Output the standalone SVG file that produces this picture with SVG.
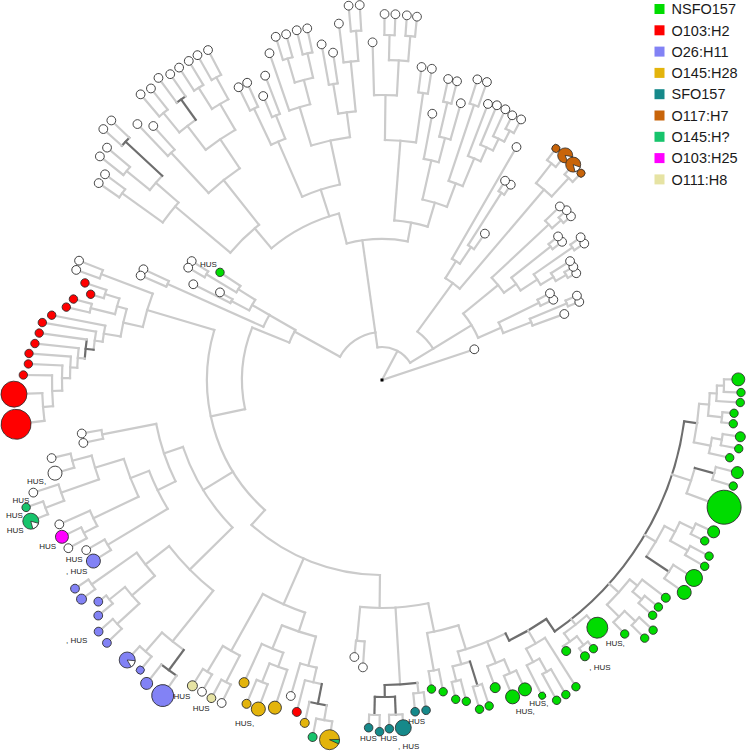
<svg xmlns="http://www.w3.org/2000/svg" width="746" height="751" viewBox="0 0 746 751">
<style>
.br line,.br circle{fill:none;stroke:#cbcbcb;stroke-width:2.2;stroke-linecap:square}
.br .d{stroke:#6e6e6e}
.lf circle,.lf path{stroke:#2a2a2a;stroke-width:0.8}
.w{fill:#fff}.ns{fill:#00dc00}.rd{fill:#f00}.pu{fill:#8282f5}.go{fill:#e3b40c}.te{fill:#16898a}.or{fill:#c8640a}.em{fill:#17c46c}.mg{fill:#f0f}.be{fill:#e6e3a3}
.lab text{font-family:"Liberation Sans",Arial,sans-serif;font-size:8px;fill:#222}
.leg{font-family:"Liberation Sans",Arial,sans-serif;font-size:14.5px;fill:#1a1a1a}
</style>
<rect width="746" height="751" fill="#fff"/>
<g id="connectors" class="br" transform="translate(382,380)">
<line x1="0" x2="97.3" transform="rotate(-18.4)"/>
<line x1="0" x2="33" transform="rotate(-62)"/>
<circle r="33" pathLength="360" stroke-dasharray="66.5 999" transform="rotate(-98)"/>
<line x1="33" x2="60" transform="rotate(-31.5)"/>
<circle r="60" pathLength="360" stroke-dasharray="22.35 999" transform="rotate(-53.85)"/>
<line x1="60" x2="105" transform="rotate(-31.5)"/>
<circle r="105" pathLength="360" stroke-dasharray="15.6 999" transform="rotate(-39.3)"/>
<line x1="105" x2="150" transform="rotate(-39.3)"/>
<circle r="150" pathLength="360" stroke-dasharray="7.4 999" transform="rotate(-43)"/>
<line x1="150" x2="228" transform="rotate(-43)"/>
<circle r="228" pathLength="360" stroke-dasharray="2.55 999" transform="rotate(-44.3)"/>
<line x1="228" x2="248.5" transform="rotate(-44.3)"/>
<line x1="228" x2="240" transform="rotate(-41.75)"/>
<circle r="240" pathLength="360" stroke-dasharray="1.7 999" transform="rotate(-42.6)"/>
<line x1="240" x2="250.8" transform="rotate(-42.6)"/>
<line x1="240" x2="250" transform="rotate(-40.9)"/>
<line x1="150" x2="165" transform="rotate(-35.6)"/>
<circle r="165" pathLength="360" stroke-dasharray="5.45 999" transform="rotate(-38.35)"/>
<line x1="165" x2="215" transform="rotate(-38.35)"/>
<circle r="215" pathLength="360" stroke-dasharray="1.7 999" transform="rotate(-39.2)"/>
<line x1="215" x2="227.2" transform="rotate(-39.2)"/>
<line x1="215" x2="227" transform="rotate(-37.5)"/>
<line x1="165" x2="185" transform="rotate(-32.9)"/>
<circle r="185" pathLength="360" stroke-dasharray="3.85 999" transform="rotate(-34.85)"/>
<line x1="185" x2="232" transform="rotate(-34.85)"/>
<circle r="232" pathLength="360" stroke-dasharray="1.7 999" transform="rotate(-35.7)"/>
<line x1="232" x2="244.6" transform="rotate(-35.7)"/>
<line x1="232" x2="244" transform="rotate(-34)"/>
<line x1="185" x2="200" transform="rotate(-31)"/>
<circle r="200" pathLength="360" stroke-dasharray="2.6 999" transform="rotate(-32.3)"/>
<line x1="200" x2="222.5" transform="rotate(-32.3)"/>
<line x1="200" x2="212" transform="rotate(-29.7)"/>
<circle r="212" pathLength="360" stroke-dasharray="1.8 999" transform="rotate(-30.6)"/>
<line x1="212" x2="222.3" transform="rotate(-30.6)"/>
<line x1="212" x2="221.7" transform="rotate(-28.8)"/>
<line x1="105" x2="130" transform="rotate(-23.7)"/>
<circle r="130" pathLength="360" stroke-dasharray="5 999" transform="rotate(-26.2)"/>
<line x1="130" x2="175" transform="rotate(-26.2)"/>
<circle r="175" pathLength="360" stroke-dasharray="2.2 999" transform="rotate(-27.3)"/>
<line x1="175" x2="189" transform="rotate(-27.3)"/>
<line x1="175" x2="189.2" transform="rotate(-25.1)"/>
<line x1="130" x2="160" transform="rotate(-21.2)"/>
<circle r="160" pathLength="360" stroke-dasharray="2.6 999" transform="rotate(-22.5)"/>
<line x1="160" x2="193.9" transform="rotate(-19.9)"/>
<line x1="160" x2="200" transform="rotate(-22.5)"/>
<circle r="200" pathLength="360" stroke-dasharray="1.8 999" transform="rotate(-23.4)"/>
<line x1="200" x2="212.4" transform="rotate(-23.4)"/>
<line x1="200" x2="212.2" transform="rotate(-21.6)"/>
<line x1="60" x2="120" transform="rotate(-53.85)"/>
<circle r="120" pathLength="360" stroke-dasharray="8.5 999" transform="rotate(-58.1)"/>
<line x1="120" x2="140" transform="rotate(-58.1)"/>
<circle r="140" pathLength="360" stroke-dasharray="3.8 999" transform="rotate(-60)"/>
<line x1="140" x2="269" transform="rotate(-60)"/>
<line x1="140" x2="160" transform="rotate(-56.2)"/>
<circle r="160" pathLength="360" stroke-dasharray="2.55 999" transform="rotate(-57.45)"/>
<line x1="160" x2="178.9" transform="rotate(-54.9)"/>
<line x1="160" x2="222" transform="rotate(-57.45)"/>
<circle r="222" pathLength="360" stroke-dasharray="1.7 999" transform="rotate(-58.3)"/>
<line x1="222" x2="234.2" transform="rotate(-58.3)"/>
<line x1="222" x2="233.9" transform="rotate(-56.6)"/>
<line x1="120" x2="250" transform="rotate(-49.6)"/>
<circle r="250" pathLength="360" stroke-dasharray="4.7 999" transform="rotate(-51.95)"/>
<line x1="250" x2="275" transform="rotate(-51.95)"/>
<circle r="275" pathLength="360" stroke-dasharray="2.3 999" transform="rotate(-53.1)"/>
<line x1="275" x2="289.6" transform="rotate(-53.1)"/>
<line x1="275" x2="289.8" transform="rotate(-50.8)"/>
<line x1="250" x2="275" transform="rotate(-47.25)"/>
<circle r="275" pathLength="360" stroke-dasharray="2.3 999" transform="rotate(-48.4)"/>
<line x1="275" x2="288" transform="rotate(-48.4)"/>
<line x1="275" x2="287" transform="rotate(-46.1)"/>
<line x1="33" x2="48" transform="rotate(-98)"/>
<circle r="48" pathLength="360" stroke-dasharray="53 999" transform="rotate(-151)"/>
<line x1="48" x2="141" transform="rotate(-98)"/>
<circle r="141" pathLength="360" stroke-dasharray="25 999" transform="rotate(-104.5)"/>
<line x1="141" x2="172" transform="rotate(-104.5)"/>
<circle r="172" pathLength="360" stroke-dasharray="25.5 999" transform="rotate(-130)"/>
<line x1="172" x2="200" transform="rotate(-107.85)"/>
<circle r="200" pathLength="360" stroke-dasharray="11.4 999" transform="rotate(-113.55)"/>
<line x1="200" x2="260" transform="rotate(-113.55)"/>
<circle r="260" pathLength="360" stroke-dasharray="3.4 999" transform="rotate(-115.25)"/>
<line x1="260" x2="300" transform="rotate(-115.25)"/>
<circle r="300" pathLength="360" stroke-dasharray="1.7 999" transform="rotate(-116.1)"/>
<line x1="300" x2="326" transform="rotate(-116.1)"/>
<line x1="300" x2="326.4" transform="rotate(-114.4)"/>
<line x1="260" x2="285" transform="rotate(-111.85)"/>
<circle r="285" pathLength="360" stroke-dasharray="1.7 999" transform="rotate(-112.7)"/>
<line x1="285" x2="307.8" transform="rotate(-112.7)"/>
<line x1="285" x2="326" transform="rotate(-111)"/>
<line x1="200" x2="245" transform="rotate(-102.15)"/>
<circle r="245" pathLength="360" stroke-dasharray="9.3 999" transform="rotate(-106.8)"/>
<line x1="245" x2="285" transform="rotate(-106.8)"/>
<circle r="285" pathLength="360" stroke-dasharray="4.4 999" transform="rotate(-109)"/>
<line x1="285" x2="345.6" transform="rotate(-109)"/>
<line x1="285" x2="310" transform="rotate(-104.6)"/>
<circle r="310" pathLength="360" stroke-dasharray="3.5 999" transform="rotate(-106.35)"/>
<line x1="310" x2="335" transform="rotate(-106.35)"/>
<circle r="335" pathLength="360" stroke-dasharray="1.7 999" transform="rotate(-107.2)"/>
<line x1="335" x2="359.3" transform="rotate(-107.2)"/>
<line x1="335" x2="358.8" transform="rotate(-105.5)"/>
<line x1="310" x2="335" transform="rotate(-102.85)"/>
<circle r="335" pathLength="360" stroke-dasharray="1.7 999" transform="rotate(-103.7)"/>
<line x1="335" x2="360" transform="rotate(-103.7)"/>
<line x1="335" x2="359.5" transform="rotate(-102)"/>
<line x1="245" x2="270" transform="rotate(-97.5)"/>
<circle r="270" pathLength="360" stroke-dasharray="3.75 999" transform="rotate(-99.35)"/>
<line x1="270" x2="300" transform="rotate(-99.35)"/>
<circle r="300" pathLength="360" stroke-dasharray="1.7 999" transform="rotate(-100.2)"/>
<line x1="300" x2="341" transform="rotate(-100.2)"/>
<line x1="300" x2="331" transform="rotate(-98.5)"/>
<line x1="270" x2="320" transform="rotate(-95.6)"/>
<circle r="320" pathLength="360" stroke-dasharray="2.65 999" transform="rotate(-96.9)"/>
<line x1="320" x2="359" transform="rotate(-96.9)"/>
<line x1="320" x2="350" transform="rotate(-94.25)"/>
<circle r="350" pathLength="360" stroke-dasharray="1.7 999" transform="rotate(-95.1)"/>
<line x1="350" x2="375.8" transform="rotate(-95.1)"/>
<line x1="350" x2="375.6" transform="rotate(-93.4)"/>
<line x1="172" x2="198" transform="rotate(-130)"/>
<circle r="198" pathLength="360" stroke-dasharray="11.6 999" transform="rotate(-140)"/>
<line x1="198" x2="255" transform="rotate(-128.4)"/>
<circle r="255" pathLength="360" stroke-dasharray="8.95 999" transform="rotate(-132.85)"/>
<line x1="255" x2="310" transform="rotate(-132.85)"/>
<circle r="310" pathLength="360" stroke-dasharray="1.7 999" transform="rotate(-133.7)"/>
<line x1="310" x2="354" transform="rotate(-133.7)"/>
<line x1="310" x2="341.8" transform="rotate(-132)"/>
<line x1="255" x2="290" transform="rotate(-123.9)"/>
<circle r="290" pathLength="360" stroke-dasharray="7.05 999" transform="rotate(-127.45)"/>
<line x1="290" x2="320" transform="rotate(-127.45)"/>
<circle r="320" pathLength="360" stroke-dasharray="3.7 999" transform="rotate(-129.3)"/>
<line x1="320" x2="345" transform="rotate(-129.3)"/>
<circle r="345" pathLength="360" stroke-dasharray="1.8 999" transform="rotate(-130.2)"/>
<line x1="345" x2="374" transform="rotate(-130.2)"/>
<line x1="345" x2="372" transform="rotate(-128.4)"/>
<line class="d" x1="320" x2="345" transform="rotate(-125.6)"/>
<circle class="d" r="345" pathLength="360" stroke-dasharray="1.8 999" transform="rotate(-126.5)"/>
<line x1="345" x2="375.8" transform="rotate(-126.5)"/>
<line x1="345" x2="372" transform="rotate(-124.7)"/>
<line x1="290" x2="320" transform="rotate(-120.4)"/>
<circle r="320" pathLength="360" stroke-dasharray="3.4 999" transform="rotate(-122.1)"/>
<line x1="320" x2="345" transform="rotate(-122.1)"/>
<circle r="345" pathLength="360" stroke-dasharray="1.8 999" transform="rotate(-123)"/>
<line x1="345" x2="372.5" transform="rotate(-123)"/>
<line x1="345" x2="373" transform="rotate(-121.2)"/>
<line x1="320" x2="345" transform="rotate(-118.7)"/>
<circle r="345" pathLength="360" stroke-dasharray="1.8 999" transform="rotate(-119.6)"/>
<line x1="345" x2="373.6" transform="rotate(-119.6)"/>
<line x1="345" x2="373" transform="rotate(-117.8)"/>
<line x1="198" x2="270" transform="rotate(-140)"/>
<circle r="270" pathLength="360" stroke-dasharray="5.4 999" transform="rotate(-144.3)"/>
<line x1="270" x2="300" transform="rotate(-138.9)"/>
<circle r="300" pathLength="360" stroke-dasharray="3.6 999" transform="rotate(-140.7)"/>
<line class="d" x1="300" x2="350" transform="rotate(-137.1)"/>
<circle class="d" r="350" pathLength="360" stroke-dasharray="1.8 999" transform="rotate(-138)"/>
<line x1="350" x2="375" transform="rotate(-138)"/>
<line x1="350" x2="375" transform="rotate(-136.2)"/>
<line x1="300" x2="330" transform="rotate(-140.7)"/>
<circle r="330" pathLength="360" stroke-dasharray="1.8 999" transform="rotate(-141.6)"/>
<line x1="330" x2="360" transform="rotate(-141.6)"/>
<line x1="330" x2="360" transform="rotate(-139.8)"/>
<line x1="270" x2="320" transform="rotate(-144.3)"/>
<circle r="320" pathLength="360" stroke-dasharray="1.8 999" transform="rotate(-145.2)"/>
<line x1="320" x2="345" transform="rotate(-145.2)"/>
<line x1="320" x2="345" transform="rotate(-143.4)"/>
<line x1="141" x2="160" transform="rotate(-79.5)"/>
<circle r="160" pathLength="360" stroke-dasharray="12.2 999" transform="rotate(-85.6)"/>
<line x1="160" x2="240" transform="rotate(-85.6)"/>
<circle r="240" pathLength="360" stroke-dasharray="7.45 999" transform="rotate(-89.3)"/>
<line x1="240" x2="285" transform="rotate(-89.3)"/>
<circle r="285" pathLength="360" stroke-dasharray="4.6 999" transform="rotate(-91.6)"/>
<line x1="285" x2="337.8" transform="rotate(-91.6)"/>
<line x1="285" x2="320" transform="rotate(-87)"/>
<circle r="320" pathLength="360" stroke-dasharray="3.45 999" transform="rotate(-88.75)"/>
<line x1="320" x2="345" transform="rotate(-88.75)"/>
<circle r="345" pathLength="360" stroke-dasharray="1.7 999" transform="rotate(-89.6)"/>
<line x1="345" x2="366" transform="rotate(-89.6)"/>
<line x1="345" x2="366" transform="rotate(-87.9)"/>
<line x1="320" x2="345" transform="rotate(-85.3)"/>
<circle r="345" pathLength="360" stroke-dasharray="1.6 999" transform="rotate(-86.1)"/>
<line x1="345" x2="365.5" transform="rotate(-86.1)"/>
<line x1="345" x2="365" transform="rotate(-84.5)"/>
<line x1="240" x2="290" transform="rotate(-81.85)"/>
<circle r="290" pathLength="360" stroke-dasharray="1.9 999" transform="rotate(-82.8)"/>
<line x1="290" x2="315.5" transform="rotate(-82.8)"/>
<line x1="290" x2="315.2" transform="rotate(-80.9)"/>
<line x1="160" x2="185" transform="rotate(-73.4)"/>
<circle r="185" pathLength="360" stroke-dasharray="7.9 999" transform="rotate(-77.35)"/>
<line x1="185" x2="225" transform="rotate(-77.35)"/>
<circle r="225" pathLength="360" stroke-dasharray="3.9 999" transform="rotate(-79.3)"/>
<line x1="225" x2="271" transform="rotate(-79.3)"/>
<line x1="225" x2="250" transform="rotate(-75.4)"/>
<circle r="250" pathLength="360" stroke-dasharray="2.65 999" transform="rotate(-76.75)"/>
<line x1="250" x2="287.8" transform="rotate(-74.1)"/>
<line x1="250" x2="285" transform="rotate(-76.75)"/>
<circle r="285" pathLength="360" stroke-dasharray="1.7 999" transform="rotate(-77.6)"/>
<line x1="285" x2="308.2" transform="rotate(-77.6)"/>
<line x1="285" x2="308" transform="rotate(-75.9)"/>
<line x1="185" x2="210" transform="rotate(-69.45)"/>
<circle r="210" pathLength="360" stroke-dasharray="4.1 999" transform="rotate(-71.5)"/>
<line x1="210" x2="290" transform="rotate(-71.5)"/>
<circle r="290" pathLength="360" stroke-dasharray="1.8 999" transform="rotate(-72.4)"/>
<line x1="290" x2="315.4" transform="rotate(-72.4)"/>
<line x1="290" x2="315.9" transform="rotate(-70.6)"/>
<line x1="210" x2="240" transform="rotate(-67.4)"/>
<circle r="240" pathLength="360" stroke-dasharray="3.25 999" transform="rotate(-69)"/>
<line x1="240" x2="295.7" transform="rotate(-69)"/>
<line x1="240" x2="255" transform="rotate(-65.75)"/>
<circle r="255" pathLength="360" stroke-dasharray="3.1 999" transform="rotate(-67.3)"/>
<line x1="255" x2="297.8" transform="rotate(-67.3)"/>
<line x1="255" x2="268" transform="rotate(-64.2)"/>
<circle r="268" pathLength="360" stroke-dasharray="2.65 999" transform="rotate(-65.5)"/>
<line x1="268" x2="297.5" transform="rotate(-65.5)"/>
<line x1="268" x2="280" transform="rotate(-62.85)"/>
<circle r="280" pathLength="360" stroke-dasharray="1.9 999" transform="rotate(-63.8)"/>
<line x1="280" x2="295" transform="rotate(-63.8)"/>
<line x1="280" x2="295.4" transform="rotate(-61.9)"/>
<line x1="48" x2="100" transform="rotate(-151)"/>
<circle r="100" pathLength="360" stroke-dasharray="8 999" transform="rotate(-158)"/>
<line x1="100" x2="130" transform="rotate(-150)"/>
<circle r="130" pathLength="360" stroke-dasharray="5.85 999" transform="rotate(-155.85)"/>
<line x1="130" x2="150" transform="rotate(-150)"/>
<circle r="150" pathLength="360" stroke-dasharray="4.65 999" transform="rotate(-152.35)"/>
<line x1="150" x2="170" transform="rotate(-147.7)"/>
<circle r="170" pathLength="360" stroke-dasharray="2.55 999" transform="rotate(-148.95)"/>
<line x1="170" x2="194.5" transform="rotate(-146.4)"/>
<line x1="170" x2="205" transform="rotate(-148.95)"/>
<circle r="205" pathLength="360" stroke-dasharray="1.9 999" transform="rotate(-149.9)"/>
<line x1="205" x2="224" transform="rotate(-149.9)"/>
<line x1="205" x2="224.4" transform="rotate(-148)"/>
<line x1="150" x2="170" transform="rotate(-152.35)"/>
<circle r="170" pathLength="360" stroke-dasharray="1.5 999" transform="rotate(-153.1)"/>
<line x1="170" x2="211.6" transform="rotate(-153.1)"/>
<line x1="170" x2="184.2" transform="rotate(-151.6)"/>
<line x1="130" x2="235" transform="rotate(-155.85)"/>
<circle r="235" pathLength="360" stroke-dasharray="1.5 999" transform="rotate(-156.6)"/>
<line x1="235" x2="263" transform="rotate(-156.6)"/>
<line x1="235" x2="263" transform="rotate(-155.1)"/>
<line x1="100" x2="140" transform="rotate(-158)"/>
<circle r="140" pathLength="360" stroke-dasharray="34 999" transform="rotate(168)"/>
<line x1="140" x2="175" transform="rotate(168)"/>
<circle r="175" pathLength="360" stroke-dasharray="64.6 999" transform="rotate(132)"/>
<line x1="175" x2="245" transform="rotate(196.6)"/>
<circle r="245" pathLength="360" stroke-dasharray="8.15 999" transform="rotate(192.5)"/>
<line x1="245" x2="300" transform="rotate(200.65)"/>
<circle r="300" pathLength="360" stroke-dasharray="1.7 999" transform="rotate(199.8)"/>
<line x1="300" x2="325" transform="rotate(199.8)"/>
<line x1="300" x2="325.6" transform="rotate(201.5)"/>
<line x1="245" x2="265" transform="rotate(192.5)"/>
<circle r="265" pathLength="360" stroke-dasharray="6.1 999" transform="rotate(189.45)"/>
<line x1="265" x2="275" transform="rotate(195.55)"/>
<circle r="275" pathLength="360" stroke-dasharray="3.4 999" transform="rotate(193.85)"/>
<line x1="275" x2="300" transform="rotate(193.85)"/>
<circle r="300" pathLength="360" stroke-dasharray="1.7 999" transform="rotate(193)"/>
<line x1="300" x2="324" transform="rotate(193)"/>
<line x1="300" x2="319" transform="rotate(194.7)"/>
<line x1="275" x2="290" transform="rotate(197.25)"/>
<circle r="290" pathLength="360" stroke-dasharray="1.7 999" transform="rotate(196.4)"/>
<line x1="290" x2="303.7" transform="rotate(196.4)"/>
<line x1="290" x2="312.5" transform="rotate(198.1)"/>
<line x1="265" x2="282" transform="rotate(189.45)"/>
<circle r="282" pathLength="360" stroke-dasharray="3.3 999" transform="rotate(187.8)"/>
<line x1="282" x2="336.6" transform="rotate(191.1)"/>
<line x1="282" x2="290" transform="rotate(187.8)"/>
<circle r="290" pathLength="360" stroke-dasharray="3.6 999" transform="rotate(186)"/>
<line x1="290" x2="344.5" transform="rotate(189.6)"/>
<line class="d" x1="290" x2="298" transform="rotate(186)"/>
<circle class="d" r="298" pathLength="360" stroke-dasharray="3.65 999" transform="rotate(184.15)"/>
<line x1="298" x2="346" transform="rotate(187.8)"/>
<line x1="298" x2="305" transform="rotate(184.15)"/>
<circle r="305" pathLength="360" stroke-dasharray="3.7 999" transform="rotate(182.3)"/>
<line x1="305" x2="349" transform="rotate(186)"/>
<line x1="305" x2="312" transform="rotate(182.3)"/>
<circle r="312" pathLength="360" stroke-dasharray="3.95 999" transform="rotate(180.35)"/>
<line x1="312" x2="354" transform="rotate(184.3)"/>
<line x1="312" x2="320" transform="rotate(180.35)"/>
<circle r="320" pathLength="360" stroke-dasharray="4.5 999" transform="rotate(178.1)"/>
<line x1="320" x2="354" transform="rotate(182.6)"/>
<line x1="320" x2="330" transform="rotate(178.1)"/>
<circle r="330" pathLength="360" stroke-dasharray="5.35 999" transform="rotate(175.45)"/>
<line x1="330" x2="358.7" transform="rotate(180.8)"/>
<line x1="330" x2="340" transform="rotate(175.45)"/>
<circle r="340" pathLength="360" stroke-dasharray="4.7 999" transform="rotate(173.1)"/>
<line x1="340" x2="368.6" transform="rotate(173.1)"/>
<line x1="340" x2="368.3" transform="rotate(177.8)"/>
<line x1="175" x2="210" transform="rotate(148.4)"/>
<circle r="210" pathLength="360" stroke-dasharray="26 999" transform="rotate(135.4)"/>
<line x1="210" x2="270" transform="rotate(135.4)"/>
<circle r="270" pathLength="360" stroke-dasharray="13.35 999" transform="rotate(128.7)"/>
<line x1="270" x2="300" transform="rotate(142.05)"/>
<circle r="300" pathLength="360" stroke-dasharray="5.6 999" transform="rotate(139.25)"/>
<line x1="300" x2="355" transform="rotate(144.85)"/>
<circle r="355" pathLength="360" stroke-dasharray="1.9 999" transform="rotate(143.9)"/>
<line x1="355" x2="371.9" transform="rotate(143.9)"/>
<line x1="355" x2="371.2" transform="rotate(145.8)"/>
<line x1="300" x2="330" transform="rotate(139.25)"/>
<circle r="330" pathLength="360" stroke-dasharray="3.8 999" transform="rotate(137.35)"/>
<line x1="330" x2="360" transform="rotate(137.35)"/>
<circle r="360" pathLength="360" stroke-dasharray="2.1 999" transform="rotate(136.3)"/>
<line x1="360" x2="380.5" transform="rotate(136.3)"/>
<line x1="360" x2="379" transform="rotate(138.4)"/>
<line x1="330" x2="350" transform="rotate(141.15)"/>
<circle r="350" pathLength="360" stroke-dasharray="1.7 999" transform="rotate(140.3)"/>
<line x1="350" x2="368.8" transform="rotate(140.3)"/>
<line x1="350" x2="360" transform="rotate(142)"/>
<line x1="270" x2="335" transform="rotate(128.7)"/>
<circle r="335" pathLength="360" stroke-dasharray="4.75 999" transform="rotate(126.3)"/>
<line class="d" x1="335" x2="360" transform="rotate(126.3)"/>
<circle class="d" r="360" pathLength="360" stroke-dasharray="3 999" transform="rotate(124.8)"/>
<line x1="360" x2="384.3" transform="rotate(124.8)"/>
<line x1="360" x2="384" transform="rotate(127.8)"/>
<line x1="335" x2="360" transform="rotate(131.05)"/>
<circle r="360" pathLength="360" stroke-dasharray="2.5 999" transform="rotate(129.8)"/>
<line x1="360" x2="377.6" transform="rotate(129.8)"/>
<line x1="360" x2="378.6" transform="rotate(132.3)"/>
<line x1="210" x2="230" transform="rotate(161.4)"/>
<circle r="230" pathLength="360" stroke-dasharray="15.15 999" transform="rotate(153.85)"/>
<line x1="230" x2="285" transform="rotate(169)"/>
<circle r="285" pathLength="360" stroke-dasharray="1.8 999" transform="rotate(168.1)"/>
<line x1="285" x2="305.2" transform="rotate(168.1)"/>
<line x1="285" x2="305" transform="rotate(169.9)"/>
<line x1="230" x2="250" transform="rotate(153.85)"/>
<circle r="250" pathLength="360" stroke-dasharray="9.7 999" transform="rotate(149)"/>
<line x1="250" x2="320" transform="rotate(149)"/>
<circle r="320" pathLength="360" stroke-dasharray="2.2 999" transform="rotate(147.9)"/>
<line x1="320" x2="340.7" transform="rotate(147.9)"/>
<line x1="320" x2="341.2" transform="rotate(150.1)"/>
<line x1="250" x2="270" transform="rotate(158.7)"/>
<circle r="270" pathLength="360" stroke-dasharray="8.6 999" transform="rotate(154.4)"/>
<line x1="270" x2="320" transform="rotate(154.4)"/>
<circle r="320" pathLength="360" stroke-dasharray="3.05 999" transform="rotate(152.85)"/>
<line x1="320" x2="353.5" transform="rotate(155.9)"/>
<line x1="320" x2="335" transform="rotate(152.85)"/>
<circle r="335" pathLength="360" stroke-dasharray="2.1 999" transform="rotate(151.8)"/>
<line x1="335" x2="355.9" transform="rotate(151.8)"/>
<line x1="335" x2="356.4" transform="rotate(153.9)"/>
<line x1="270" x2="300" transform="rotate(163)"/>
<circle r="300" pathLength="360" stroke-dasharray="4.75 999" transform="rotate(160.65)"/>
<line x1="300" x2="320" transform="rotate(165.4)"/>
<circle r="320" pathLength="360" stroke-dasharray="2.6 999" transform="rotate(164.1)"/>
<line x1="320" x2="340" transform="rotate(164.1)"/>
<line x1="320" x2="339.5" transform="rotate(166.7)"/>
<line x1="300" x2="340" transform="rotate(160.65)"/>
<circle r="340" pathLength="360" stroke-dasharray="2.9 999" transform="rotate(159.2)"/>
<line x1="340" x2="366.4" transform="rotate(162.1)"/>
<line x1="340" x2="360" transform="rotate(159.2)"/>
<circle r="360" pathLength="360" stroke-dasharray="2.2 999" transform="rotate(158.1)"/>
<line x1="360" x2="378.5" transform="rotate(158.1)"/>
<line x1="360" x2="378" transform="rotate(160.3)"/>
<line x1="175" x2="195" transform="rotate(132)"/>
<circle r="195" pathLength="360" stroke-dasharray="41.4 999" transform="rotate(90.6)"/>
<line x1="195" x2="245" transform="rotate(113.7)"/>
<circle r="245" pathLength="360" stroke-dasharray="10.8 999" transform="rotate(108.3)"/>
<line x1="245" x2="310" transform="rotate(119.1)"/>
<circle r="310" pathLength="360" stroke-dasharray="3.6 999" transform="rotate(117.3)"/>
<line x1="310" x2="340" transform="rotate(117.3)"/>
<circle r="340" pathLength="360" stroke-dasharray="1.8 999" transform="rotate(116.4)"/>
<line x1="340" x2="360.6" transform="rotate(116.4)"/>
<line x1="340" x2="361" transform="rotate(118.2)"/>
<line x1="310" x2="340" transform="rotate(120.9)"/>
<circle r="340" pathLength="360" stroke-dasharray="1.8 999" transform="rotate(120)"/>
<line x1="340" x2="360" transform="rotate(120)"/>
<line x1="340" x2="359.8" transform="rotate(121.8)"/>
<line x1="245" x2="265" transform="rotate(108.3)"/>
<circle r="265" pathLength="360" stroke-dasharray="7.75 999" transform="rotate(104.45)"/>
<line x1="265" x2="290" transform="rotate(112.2)"/>
<circle r="290" pathLength="360" stroke-dasharray="4.6 999" transform="rotate(109.9)"/>
<line x1="290" x2="332.6" transform="rotate(114.5)"/>
<line x1="290" x2="305" transform="rotate(109.9)"/>
<circle r="305" pathLength="360" stroke-dasharray="3.55 999" transform="rotate(108.1)"/>
<line x1="305" x2="344.7" transform="rotate(108.1)"/>
<line x1="305" x2="325" transform="rotate(111.65)"/>
<circle r="325" pathLength="360" stroke-dasharray="2.1 999" transform="rotate(110.6)"/>
<line x1="325" x2="351.5" transform="rotate(110.6)"/>
<line x1="325" x2="351" transform="rotate(112.7)"/>
<line x1="265" x2="295" transform="rotate(104.45)"/>
<circle r="295" pathLength="360" stroke-dasharray="3.3 999" transform="rotate(102.8)"/>
<line x1="295" x2="328.9" transform="rotate(106.1)"/>
<line x1="295" x2="310" transform="rotate(102.8)"/>
<circle r="310" pathLength="360" stroke-dasharray="3.2 999" transform="rotate(101.2)"/>
<line x1="310" x2="342.7" transform="rotate(104.4)"/>
<line class="d" x1="310" x2="330" transform="rotate(101.2)"/>
<circle class="d" r="330" pathLength="360" stroke-dasharray="3.05 999" transform="rotate(99.65)"/>
<line x1="330" x2="351.5" transform="rotate(102.7)"/>
<line x1="330" x2="345" transform="rotate(99.65)"/>
<circle r="345" pathLength="360" stroke-dasharray="2.7 999" transform="rotate(98.3)"/>
<line x1="345" x2="363.5" transform="rotate(98.3)"/>
<line x1="345" x2="363.7" transform="rotate(101)"/>
<line x1="195" x2="228" transform="rotate(90.6)"/>
<circle r="228" pathLength="360" stroke-dasharray="17.2 999" transform="rotate(78.3)"/>
<line x1="228" x2="262" transform="rotate(95.5)"/>
<circle r="262" pathLength="360" stroke-dasharray="1.9 999" transform="rotate(93.8)"/>
<line x1="262" x2="288" transform="rotate(93.8)"/>
<line x1="262" x2="278.4" transform="rotate(95.7)"/>
<line x1="228" x2="305" transform="rotate(86.6)"/>
<circle class="d" r="305" pathLength="360" stroke-dasharray="6.15 999" transform="rotate(83.35)"/>
<line class="d" x1="305" x2="317" transform="rotate(89.5)"/>
<circle class="d" r="317" pathLength="360" stroke-dasharray="3.65 999" transform="rotate(87.65)"/>
<line class="d" x1="317" x2="335" transform="rotate(91.3)"/>
<circle r="335" pathLength="360" stroke-dasharray="1.8 999" transform="rotate(90.4)"/>
<line x1="335" x2="351.7" transform="rotate(90.4)"/>
<line x1="335" x2="348" transform="rotate(92.2)"/>
<line class="d" x1="317" x2="335" transform="rotate(87.65)"/>
<circle r="335" pathLength="360" stroke-dasharray="2.3 999" transform="rotate(86.5)"/>
<line x1="335" x2="348.4" transform="rotate(86.5)"/>
<line x1="335" x2="348.8" transform="rotate(88.8)"/>
<line x1="305" x2="315" transform="rotate(83.35)"/>
<circle r="315" pathLength="360" stroke-dasharray="1.9 999" transform="rotate(82.4)"/>
<line x1="315" x2="333.2" transform="rotate(82.4)"/>
<line x1="315" x2="333.4" transform="rotate(84.3)"/>
<line x1="228" x2="257" transform="rotate(78.3)"/>
<circle r="257" pathLength="360" stroke-dasharray="7.2 999" transform="rotate(72.7)"/>
<line x1="257" x2="295" transform="rotate(79.9)"/>
<circle r="295" pathLength="360" stroke-dasharray="2 999" transform="rotate(78.9)"/>
<line x1="295" x2="317.7" transform="rotate(78.9)"/>
<line x1="295" x2="313" transform="rotate(80.9)"/>
<line x1="257" x2="282" transform="rotate(72.7)"/>
<circle r="282" pathLength="360" stroke-dasharray="10.4 999" transform="rotate(64)"/>
<line x1="282" x2="295" transform="rotate(74.4)"/>
<circle r="295" pathLength="360" stroke-dasharray="3.5 999" transform="rotate(72.65)"/>
<line x1="295" x2="310" transform="rotate(76.15)"/>
<circle r="310" pathLength="360" stroke-dasharray="1.7 999" transform="rotate(75.3)"/>
<line x1="310" x2="332.2" transform="rotate(75.3)"/>
<line x1="310" x2="327.7" transform="rotate(77)"/>
<line class="d" x1="295" x2="320" transform="rotate(72.65)"/>
<circle r="320" pathLength="360" stroke-dasharray="1.7 999" transform="rotate(71.8)"/>
<line x1="320" x2="343.1" transform="rotate(71.8)"/>
<line x1="320" x2="343.4" transform="rotate(73.5)"/>
<line x1="282" x2="305" transform="rotate(68.1)"/>
<circle r="305" pathLength="360" stroke-dasharray="3.4 999" transform="rotate(66.4)"/>
<line x1="305" x2="327.8" transform="rotate(69.8)"/>
<line x1="305" x2="320" transform="rotate(66.4)"/>
<circle r="320" pathLength="360" stroke-dasharray="2.4 999" transform="rotate(65.2)"/>
<line x1="320" x2="340.8" transform="rotate(65.2)"/>
<line x1="320" x2="342.7" transform="rotate(67.6)"/>
<line class="d" x1="282" x2="290" transform="rotate(64)"/>
<circle class="d" r="290" pathLength="360" stroke-dasharray="8.5 999" transform="rotate(55.5)"/>
<line x1="290" x2="305" transform="rotate(59.75)"/>
<circle r="305" pathLength="360" stroke-dasharray="4.1 999" transform="rotate(57.7)"/>
<line x1="305" x2="362.9" transform="rotate(57.7)"/>
<line x1="305" x2="320" transform="rotate(61.8)"/>
<circle r="320" pathLength="360" stroke-dasharray="2.55 999" transform="rotate(60.55)"/>
<line x1="320" x2="354" transform="rotate(63.1)"/>
<line x1="320" x2="335" transform="rotate(60.55)"/>
<circle r="335" pathLength="360" stroke-dasharray="1.7 999" transform="rotate(59.7)"/>
<line x1="335" x2="364.4" transform="rotate(59.7)"/>
<line x1="335" x2="364.8" transform="rotate(61.4)"/>
<line class="d" x1="290" x2="305" transform="rotate(55.5)"/>
<circle class="d" r="305" pathLength="360" stroke-dasharray="47.7 999" transform="rotate(7.8)"/>
<line x1="305" x2="312" transform="rotate(51.65)"/>
<circle r="312" pathLength="360" stroke-dasharray="5.3 999" transform="rotate(49)"/>
<line x1="312" x2="328.2" transform="rotate(49)"/>
<line x1="312" x2="322" transform="rotate(54.3)"/>
<circle r="322" pathLength="360" stroke-dasharray="3.05 999" transform="rotate(52.75)"/>
<line x1="322" x2="327.7" transform="rotate(55.8)"/>
<line x1="322" x2="333" transform="rotate(52.75)"/>
<circle r="333" pathLength="360" stroke-dasharray="1.9 999" transform="rotate(51.8)"/>
<line x1="333" x2="341.9" transform="rotate(51.8)"/>
<line x1="333" x2="342.8" transform="rotate(53.7)"/>
<line x1="305" x2="318" transform="rotate(41.9)"/>
<circle r="318" pathLength="360" stroke-dasharray="6.1 999" transform="rotate(38.85)"/>
<line x1="318" x2="335" transform="rotate(44.95)"/>
<circle r="335" pathLength="360" stroke-dasharray="2.7 999" transform="rotate(43.6)"/>
<line x1="335" x2="351.3" transform="rotate(46.3)"/>
<line x1="335" x2="350" transform="rotate(43.6)"/>
<circle r="350" pathLength="360" stroke-dasharray="1.8 999" transform="rotate(42.7)"/>
<line x1="350" x2="368.9" transform="rotate(42.7)"/>
<line x1="350" x2="368.3" transform="rotate(44.5)"/>
<line x1="318" x2="328" transform="rotate(38.85)"/>
<circle r="328" pathLength="360" stroke-dasharray="2.7 999" transform="rotate(37.5)"/>
<line x1="328" x2="357.7" transform="rotate(37.5)"/>
<line x1="328" x2="340" transform="rotate(40.2)"/>
<circle r="340" pathLength="360" stroke-dasharray="1.6 999" transform="rotate(39.4)"/>
<line x1="340" x2="357.7" transform="rotate(39.4)"/>
<line x1="340" x2="358.6" transform="rotate(41)"/>
<line x1="305" x2="318" transform="rotate(30.55)"/>
<circle r="318" pathLength="360" stroke-dasharray="6.4 999" transform="rotate(27.35)"/>
<line class="d" x1="318" x2="345" transform="rotate(33.75)"/>
<circle r="345" pathLength="360" stroke-dasharray="2.7 999" transform="rotate(32.4)"/>
<line x1="345" x2="369.5" transform="rotate(32.4)"/>
<line x1="345" x2="369.4" transform="rotate(35.1)"/>
<line x1="318" x2="330" transform="rotate(27.35)"/>
<circle r="330" pathLength="360" stroke-dasharray="3.6 999" transform="rotate(25.55)"/>
<line x1="330" x2="350" transform="rotate(29.15)"/>
<circle r="350" pathLength="360" stroke-dasharray="1.7 999" transform="rotate(28.3)"/>
<line x1="350" x2="371.5" transform="rotate(28.3)"/>
<line x1="350" x2="372.6" transform="rotate(30)"/>
<line x1="330" x2="345" transform="rotate(25.55)"/>
<circle r="345" pathLength="360" stroke-dasharray="1.9 999" transform="rotate(24.6)"/>
<line x1="345" x2="364.7" transform="rotate(24.6)"/>
<line x1="345" x2="360.6" transform="rotate(26.5)"/>
<line x1="305" x2="325" transform="rotate(18.05)"/>
<circle r="325" pathLength="360" stroke-dasharray="4.7 999" transform="rotate(15.7)"/>
<line x1="325" x2="365" transform="rotate(20.4)"/>
<line class="d" x1="325" x2="345" transform="rotate(15.7)"/>
<circle r="345" pathLength="360" stroke-dasharray="2.2 999" transform="rotate(14.6)"/>
<line x1="345" x2="367.2" transform="rotate(14.6)"/>
<line x1="345" x2="366.9" transform="rotate(16.8)"/>
<line class="d" x1="305" x2="318" transform="rotate(7.8)"/>
<circle r="318" pathLength="360" stroke-dasharray="7 999" transform="rotate(4.3)"/>
<line x1="318" x2="328" transform="rotate(4.3)"/>
<circle r="328" pathLength="360" stroke-dasharray="3.95 999" transform="rotate(2.3)"/>
<line x1="328" x2="335" transform="rotate(2.3)"/>
<circle r="335" pathLength="360" stroke-dasharray="2.65 999" transform="rotate(0.95)"/>
<line x1="335" x2="359" transform="rotate(3.6)"/>
<line x1="335" x2="342" transform="rotate(0.95)"/>
<circle r="342" pathLength="360" stroke-dasharray="2.1 999" transform="rotate(-0.1)"/>
<line x1="342" x2="356.3" transform="rotate(-0.1)"/>
<line x1="342" x2="359.2" transform="rotate(2)"/>
<line x1="328" x2="342" transform="rotate(6.25)"/>
<circle r="342" pathLength="360" stroke-dasharray="1.7 999" transform="rotate(5.4)"/>
<line x1="342" x2="353.6" transform="rotate(5.4)"/>
<line x1="342" x2="354" transform="rotate(7.1)"/>
<line x1="318" x2="335" transform="rotate(11.3)"/>
<circle r="335" pathLength="360" stroke-dasharray="2.65 999" transform="rotate(9.95)"/>
<line x1="335" x2="356.3" transform="rotate(12.6)"/>
<line x1="335" x2="345" transform="rotate(9.95)"/>
<circle r="345" pathLength="360" stroke-dasharray="1.9 999" transform="rotate(9)"/>
<line x1="345" x2="362.8" transform="rotate(9)"/>
<line x1="345" x2="363.3" transform="rotate(10.9)"/>
</g>
<rect id="root" x="380.5" y="378.5" width="3" height="3" fill="#000"/>
<g id="leaves" class="lf" transform="translate(382,380)">
<g id="u0" transform="rotate(-18.4)"><circle class="w" cx="97.3" r="4.4"/></g>
<g id="u37" transform="rotate(-19.9)"><circle class="w" cx="193.9" r="4.4"/></g>
<g id="u36" transform="rotate(-21.6)"><circle class="w" cx="212.2" r="4.4"/></g>
<g id="u35" transform="rotate(-23.4)"><circle class="w" cx="212.4" r="4.4"/></g>
<g id="u34" transform="rotate(-25.1)"><circle class="w" cx="189.2" r="4.4"/></g>
<g id="u33" transform="rotate(-27.3)"><circle class="w" cx="189" r="4.4"/></g>
<g id="u32" transform="rotate(-28.8)"><circle class="w" cx="221.7" r="4.4"/></g>
<g id="u31" transform="rotate(-30.6)"><circle class="w" cx="222.3" r="4.4"/></g>
<g id="u30" transform="rotate(-32.3)"><circle class="w" cx="222.5" r="4.4"/></g>
<g id="u29" transform="rotate(-34)"><circle class="w" cx="244" r="4.4"/></g>
<g id="u28" transform="rotate(-35.7)"><circle class="w" cx="244.6" r="4.4"/></g>
<g id="u27" transform="rotate(-37.5)"><circle class="w" cx="227" r="4.4"/></g>
<g id="u26" transform="rotate(-39.2)"><circle class="w" cx="227.2" r="4.4"/></g>
<g id="u25" transform="rotate(-40.9)"><circle class="w" cx="250" r="4.4"/></g>
<g id="u24" transform="rotate(-42.6)"><circle class="w" cx="250.8" r="4.4"/></g>
<g id="u23" transform="rotate(-44.3)"><circle class="w" cx="248.5" r="4.4"/></g>
<g id="o4" transform="rotate(-46.1)"><circle class="or" cx="287" r="4"/></g>
<g id="o1" transform="rotate(-53.1)"><circle class="or" cx="289.6" r="4"/></g>
<g id="u22" transform="rotate(-54.9)"><circle class="w" cx="178.9" r="4.4"/></g>
<g id="u21" transform="rotate(-56.6)"><circle class="w" cx="233.9" r="4.4"/></g>
<g id="u20" transform="rotate(-58.3)"><circle class="w" cx="234.2" r="4.4"/></g>
<g id="u19" transform="rotate(-60)"><circle class="w" cx="269" r="4.4"/></g>
<g id="u18" transform="rotate(-61.9)"><circle class="w" cx="295.4" r="4.4"/></g>
<g id="u17" transform="rotate(-63.8)"><circle class="w" cx="295" r="4.4"/></g>
<g id="u16" transform="rotate(-65.5)"><circle class="w" cx="297.5" r="4.4"/></g>
<g id="u15" transform="rotate(-67.3)"><circle class="w" cx="297.8" r="4.4"/></g>
<g id="u14" transform="rotate(-69)"><circle class="w" cx="295.7" r="4.4"/></g>
<g id="u13" transform="rotate(-70.6)"><circle class="w" cx="315.9" r="4.4"/></g>
<g id="u12" transform="rotate(-72.4)"><circle class="w" cx="315.4" r="4.4"/></g>
<g id="u11" transform="rotate(-74.1)"><circle class="w" cx="287.8" r="4.4"/></g>
<g id="u10" transform="rotate(-75.9)"><circle class="w" cx="308" r="4.4"/></g>
<g id="u9" transform="rotate(-77.6)"><circle class="w" cx="308.2" r="4.4"/></g>
<g id="u8" transform="rotate(-79.3)"><circle class="w" cx="271" r="4.4"/></g>
<g id="u7" transform="rotate(-80.9)"><circle class="w" cx="315.2" r="4.4"/></g>
<g id="u6" transform="rotate(-82.8)"><circle class="w" cx="315.5" r="4.4"/></g>
<g id="u5" transform="rotate(-84.5)"><circle class="w" cx="365" r="4.4"/></g>
<g id="u4" transform="rotate(-86.1)"><circle class="w" cx="365.5" r="4.4"/></g>
<g id="u3" transform="rotate(-87.9)"><circle class="w" cx="366" r="4.4"/></g>
<g id="u2" transform="rotate(-89.6)"><circle class="w" cx="366" r="4.4"/></g>
<g id="u1" transform="rotate(-91.6)"><circle class="w" cx="337.8" r="4.4"/></g>
<g id="v1" transform="rotate(-93.4)"><circle class="w" cx="375.6" r="4.4"/></g>
<g id="v2" transform="rotate(-95.1)"><circle class="w" cx="375.8" r="4.4"/></g>
<g id="v3" transform="rotate(-96.9)"><circle class="w" cx="359" r="4.4"/></g>
<g id="v4" transform="rotate(-98.5)"><circle class="w" cx="331" r="4.4"/></g>
<g id="v5" transform="rotate(-100.2)"><circle class="w" cx="341" r="4.4"/></g>
<g id="v6" transform="rotate(-102)"><circle class="w" cx="359.5" r="4.4"/></g>
<g id="v7" transform="rotate(-103.7)"><circle class="w" cx="360" r="4.4"/></g>
<g id="v8" transform="rotate(-105.5)"><circle class="w" cx="358.8" r="4.4"/></g>
<g id="v9" transform="rotate(-107.2)"><circle class="w" cx="359.3" r="4.4"/></g>
<g id="v10" transform="rotate(-109)"><circle class="w" cx="345.6" r="4.4"/></g>
<g id="v11" transform="rotate(-111)"><circle class="w" cx="326" r="4.4"/></g>
<g id="v12" transform="rotate(-112.7)"><circle class="w" cx="307.8" r="4.4"/></g>
<g id="v13" transform="rotate(-114.4)"><circle class="w" cx="326.4" r="4.4"/></g>
<g id="v14" transform="rotate(-116.1)"><circle class="w" cx="326" r="4.4"/></g>
<g id="y1" transform="rotate(-117.8)"><circle class="w" cx="373" r="4.4"/></g>
<g id="y2" transform="rotate(-119.6)"><circle class="w" cx="373.6" r="4.4"/></g>
<g id="y3" transform="rotate(-121.2)"><circle class="w" cx="373" r="4.4"/></g>
<g id="y4" transform="rotate(-123)"><circle class="w" cx="372.5" r="4.4"/></g>
<g id="y5" transform="rotate(-124.7)"><circle class="w" cx="372" r="4.4"/></g>
<g id="y6" transform="rotate(-126.5)"><circle class="w" cx="375.8" r="4.4"/></g>
<g id="y7" transform="rotate(-128.4)"><circle class="w" cx="372" r="4.4"/></g>
<g id="y8" transform="rotate(-130.2)"><circle class="w" cx="374" r="4.4"/></g>
<g id="y9" transform="rotate(-132)"><circle class="w" cx="341.8" r="4.4"/></g>
<g id="y10" transform="rotate(-133.7)"><circle class="w" cx="354" r="4.4"/></g>
<g id="z1" transform="rotate(-136.2)"><circle class="w" cx="375" r="4.4"/></g>
<g id="z2" transform="rotate(-138)"><circle class="w" cx="375" r="4.4"/></g>
<g id="z3" transform="rotate(-139.8)"><circle class="w" cx="360" r="4.4"/></g>
<g id="z4" transform="rotate(-141.6)"><circle class="w" cx="360" r="4.4"/></g>
<g id="z5" transform="rotate(-143.4)"><circle class="w" cx="345" r="4.4"/></g>
<g id="z6" transform="rotate(-145.2)"><circle class="w" cx="345" r="4.4"/></g>
<g id="h1" transform="rotate(-146.4)"><circle class="ns" cx="194.5" r="4.2"/></g>
<g id="h2" transform="rotate(-148)"><circle class="w" cx="224.4" r="4.4"/></g>
<g id="h3" transform="rotate(-149.9)"><circle class="w" cx="224" r="4.4"/></g>
<g id="h4" transform="rotate(-151.6)"><circle class="w" cx="184.2" r="4.4"/></g>
<g id="h5" transform="rotate(-153.1)"><circle class="w" cx="211.6" r="4.4"/></g>
<g id="h6" transform="rotate(-155.1)"><circle class="w" cx="263" r="4.4"/></g>
<g id="h7" transform="rotate(-156.6)"><circle class="w" cx="263" r="4.4"/></g>
<g id="r1" transform="rotate(201.5)"><circle class="w" cx="325.6" r="4.4"/></g>
<g id="r2" transform="rotate(199.8)"><circle class="w" cx="325" r="4.4"/></g>
<g id="r3" transform="rotate(198.1)"><circle class="rd" cx="312.5" r="4.2"/></g>
<g id="r4" transform="rotate(196.4)"><circle class="rd" cx="303.7" r="4.2"/></g>
<g id="r5" transform="rotate(194.7)"><circle class="rd" cx="319" r="4.2"/></g>
<g id="r6" transform="rotate(193)"><circle class="rd" cx="324" r="4.2"/></g>
<g id="r7" transform="rotate(191.1)"><circle class="rd" cx="336.6" r="4.2"/></g>
<g id="r8" transform="rotate(189.6)"><circle class="rd" cx="344.5" r="4.2"/></g>
<g id="r9" transform="rotate(187.8)"><circle class="rd" cx="346" r="4.2"/></g>
<g id="r10" transform="rotate(186)"><circle class="rd" cx="349" r="4.2"/></g>
<g id="r11" transform="rotate(184.3)"><circle class="rd" cx="354" r="4.2"/></g>
<g id="r12" transform="rotate(182.6)"><circle class="rd" cx="354" r="4.2"/></g>
<g id="r13" transform="rotate(180.8)"><circle class="rd" cx="358.7" r="4.2"/></g>
<g id="r14" transform="rotate(177.8)"><circle class="rd" cx="368.3" r="13"/></g>
<g id="r15" transform="rotate(173.1)"><circle class="rd" cx="368.6" r="15"/></g>
<g id="a1" transform="rotate(169.9)"><circle class="w" cx="305" r="4.4"/></g>
<g id="a2" transform="rotate(168.1)"><circle class="w" cx="305.2" r="4.4"/></g>
<g id="a3" transform="rotate(166.7)"><circle class="w" cx="339.5" r="4.4"/></g>
<g id="a4" transform="rotate(164.1)"><circle class="w" cx="340" r="7"/></g>
<g id="a5" transform="rotate(162.1)"><circle class="w" cx="366.4" r="4.4"/></g>
<g id="a6" transform="rotate(160.3)"><circle class="em" cx="378" r="4.2"/></g>
<g id="a8" transform="rotate(155.9)"><circle class="w" cx="353.5" r="4.4"/></g>
<g id="a9" transform="rotate(153.9)"><circle class="mg" cx="356.4" r="6.5"/></g>
<g id="a10" transform="rotate(151.8)"><circle class="w" cx="355.9" r="4.4"/></g>
<g id="a11" transform="rotate(150.1)"><circle class="w" cx="341.2" r="4.4"/></g>
<g id="a12" transform="rotate(147.9)"><circle class="pu" cx="340.7" r="7"/></g>
<g id="a13" transform="rotate(145.8)"><circle class="pu" cx="371.2" r="4.4"/></g>
<g id="a14" transform="rotate(143.9)"><circle class="pu" cx="371.9" r="5"/></g>
<g id="a15" transform="rotate(142)"><circle class="pu" cx="360" r="4.4"/></g>
<g id="a16" transform="rotate(140.3)"><circle class="pu" cx="368.8" r="4.4"/></g>
<g id="a17" transform="rotate(138.4)"><circle class="pu" cx="379" r="4.4"/></g>
<g id="a18" transform="rotate(136.3)"><circle class="pu" cx="380.5" r="4.4"/></g>
<g id="a20" transform="rotate(129.8)"><circle class="pu" cx="377.6" r="4"/></g>
<g id="a21" transform="rotate(127.8)"><circle class="pu" cx="384" r="6"/></g>
<g id="a22" transform="rotate(124.8)"><circle class="pu" cx="384.3" r="11"/></g>
<g id="b1" transform="rotate(121.8)"><circle class="be" cx="359.8" r="5"/></g>
<g id="b2" transform="rotate(120)"><circle class="w" cx="360" r="4.4"/></g>
<g id="b3" transform="rotate(118.2)"><circle class="be" cx="361" r="4.4"/></g>
<g id="b4" transform="rotate(116.4)"><circle class="w" cx="360.6" r="4.4"/></g>
<g id="c1" transform="rotate(114.5)"><circle class="go" cx="332.6" r="5"/></g>
<g id="c2" transform="rotate(112.7)"><circle class="go" cx="351" r="4.5"/></g>
<g id="c3" transform="rotate(110.6)"><circle class="go" cx="351.5" r="7"/></g>
<g id="c4" transform="rotate(108.1)"><circle class="go" cx="344.7" r="6.5"/></g>
<g id="d1" transform="rotate(106.1)"><circle class="w" cx="328.9" r="4.4"/></g>
<g id="d2" transform="rotate(104.4)"><circle class="rd" cx="342.7" r="4.5"/></g>
<g id="d3" transform="rotate(102.7)"><circle class="go" cx="351.5" r="4.5"/></g>
<g id="d4" transform="rotate(101)"><circle class="em" cx="363.7" r="4.5"/></g>
<g id="e1" transform="rotate(95.7)"><circle class="w" cx="278.4" r="4.4"/></g>
<g id="e2" transform="rotate(93.8)"><circle class="w" cx="288" r="4.4"/></g>
<g id="t1" transform="rotate(92.2)"><circle class="te" cx="348" r="4.3"/></g>
<g id="t2" transform="rotate(90.4)"><circle class="te" cx="351.7" r="4.3"/></g>
<g id="t3" transform="rotate(88.8)"><circle class="te" cx="348.8" r="4.3"/></g>
<g id="t4" transform="rotate(86.5)"><circle class="te" cx="348.4" r="8"/></g>
<g id="t5" transform="rotate(84.3)"><circle class="te" cx="333.4" r="4.3"/></g>
<g id="t6" transform="rotate(82.4)"><circle class="te" cx="333.2" r="4.3"/></g>
<g id="g1" transform="rotate(80.9)"><circle class="ns" cx="313" r="4.2"/></g>
<g id="g2" transform="rotate(78.9)"><circle class="ns" cx="317.7" r="4.2"/></g>
<g id="g3" transform="rotate(77)"><circle class="ns" cx="327.7" r="4.2"/></g>
<g id="g4" transform="rotate(75.3)"><circle class="ns" cx="332.2" r="4.2"/></g>
<g id="g5" transform="rotate(73.5)"><circle class="ns" cx="343.4" r="4.2"/></g>
<g id="g6" transform="rotate(71.8)"><circle class="ns" cx="343.1" r="4.2"/></g>
<g id="g7" transform="rotate(69.8)"><circle class="ns" cx="327.8" r="5"/></g>
<g id="g8" transform="rotate(67.6)"><circle class="ns" cx="342.7" r="7"/></g>
<g id="g9" transform="rotate(65.2)"><circle class="ns" cx="340.8" r="6.5"/></g>
<g id="g10" transform="rotate(63.1)"><circle class="ns" cx="354" r="3.6"/></g>
<g id="g11" transform="rotate(61.4)"><circle class="ns" cx="364.8" r="4.2"/></g>
<g id="g12" transform="rotate(59.7)"><circle class="ns" cx="364.4" r="4.2"/></g>
<g id="g13" transform="rotate(57.7)"><circle class="ns" cx="362.9" r="4.2"/></g>
<g id="g14" transform="rotate(55.8)"><circle class="ns" cx="327.7" r="4.5"/></g>
<g id="g15" transform="rotate(53.7)"><circle class="ns" cx="342.8" r="4.5"/></g>
<g id="g16" transform="rotate(51.8)"><circle class="ns" cx="341.9" r="4.2"/></g>
<g id="g17" transform="rotate(49)"><circle class="ns" cx="328.2" r="10.5"/></g>
<g id="g18" transform="rotate(46.3)"><circle class="ns" cx="351.3" r="4.2"/></g>
<g id="g19" transform="rotate(44.5)"><circle class="ns" cx="368.3" r="4.2"/></g>
<g id="g20" transform="rotate(42.7)"><circle class="ns" cx="368.9" r="4.2"/></g>
<g id="g21" transform="rotate(41)"><circle class="ns" cx="358.6" r="4.2"/></g>
<g id="g22" transform="rotate(39.4)"><circle class="ns" cx="357.7" r="4.2"/></g>
<g id="g23" transform="rotate(37.5)"><circle class="ns" cx="357.7" r="4.5"/></g>
<g id="g24" transform="rotate(35.1)"><circle class="ns" cx="369.4" r="7"/></g>
<g id="g25" transform="rotate(32.4)"><circle class="ns" cx="369.5" r="8.5"/></g>
<g id="g26" transform="rotate(30)"><circle class="ns" cx="372.6" r="4.2"/></g>
<g id="g27" transform="rotate(28.3)"><circle class="ns" cx="371.5" r="4.2"/></g>
<g id="g28" transform="rotate(26.5)"><circle class="ns" cx="360.6" r="4.2"/></g>
<g id="g29" transform="rotate(24.6)"><circle class="ns" cx="364.7" r="6"/></g>
<g id="g30" transform="rotate(20.4)"><circle class="ns" cx="365" r="17"/></g>
<g id="g31" transform="rotate(16.8)"><circle class="ns" cx="366.9" r="4.2"/></g>
<g id="g32" transform="rotate(14.6)"><circle class="ns" cx="367.2" r="6"/></g>
<g id="g33" transform="rotate(12.6)"><circle class="ns" cx="356.3" r="4.2"/></g>
<g id="g34" transform="rotate(10.9)"><circle class="ns" cx="363.3" r="4.2"/></g>
<g id="g35" transform="rotate(9)"><circle class="ns" cx="362.8" r="5"/></g>
<g id="g36" transform="rotate(7.1)"><circle class="ns" cx="354" r="4.2"/></g>
<g id="g37" transform="rotate(5.4)"><circle class="ns" cx="353.6" r="4.2"/></g>
<g id="g38" transform="rotate(3.6)"><circle class="ns" cx="359" r="4.2"/></g>
<g id="g39" transform="rotate(2)"><circle class="ns" cx="359.2" r="4.2"/></g>
<g id="g40" transform="rotate(-0.1)"><circle class="ns" cx="356.3" r="6.5"/></g>
</g>
<g id="pies" class="lf">
<g id="o2"><circle class="or" cx="565.2" cy="155.4" r="7.5"/><path d="M565.2,155.4 L572.6,156.7 A7.5,7.5 0 0 1 567.8,162.4 Z" fill="#fff" stroke="none"/></g>
<g id="o3"><circle class="or" cx="573.2" cy="164.6" r="7.5"/><path d="M573.2,164.6 L580.2,167.2 A7.5,7.5 0 0 1 575.1,171.8 Z" fill="#fff" stroke="none"/></g>
<g id="a7"><circle class="em" cx="30.8" cy="521.2" r="8"/><path d="M30.8,521.2 L38.5,523.3 A8,8 0 0 1 32.9,528.9 Z" fill="#fff" stroke="none"/></g>
<g id="a19"><circle class="pu" cx="127.2" cy="660" r="8"/><path d="M127.2,660 L135.2,660.7 A8,8 0 0 1 131.2,666.9 Z" fill="#fff" stroke="none"/></g>
<g id="d5"><circle class="go" cx="329.5" cy="739.7" r="10"/><path d="M329.5,739.7 L339.5,739.4 A10,10 0 0 1 338.6,743.9 Z" fill="#17c46c" stroke="none"/></g>
</g>
<g id="labels" class="lab">
<text x="200" y="267">HUS</text>
<text x="27" y="484">HUS,</text>
<text x="12.5" y="503">HUS</text>
<text x="6" y="518">HUS</text>
<text x="6.7" y="533">HUS</text>
<text x="39.3" y="548.5">HUS</text>
<text x="65.7" y="561.5">HUS</text>
<text x="66" y="574">, HUS</text>
<text x="66" y="643">, HUS</text>
<text x="173.5" y="699">HUS</text>
<text x="192.7" y="710.7">HUS</text>
<text x="235" y="725.7">HUS,</text>
<text x="360" y="740.5">HUS</text>
<text x="380.5" y="740.5">HUS</text>
<text x="398" y="748.5">, HUS</text>
<text x="408.3" y="724.3">HUS</text>
<text x="529.3" y="706">HUS,</text>
<text x="515.7" y="714">HUS,</text>
<text x="605.7" y="645.7">HUS,</text>
<text x="589.3" y="669.7">, HUS</text>
</g>
<g id="legend" class="leg">
<rect x="654.5" y="4" width="10" height="10" fill="#00dc00"/><text x="671.5" y="14.2">NSFO157</text>
<rect x="654.5" y="25.3" width="10" height="10" fill="#f00"/><text x="671.5" y="35.5">O103:H2</text>
<rect x="654.5" y="46.6" width="10" height="10" fill="#8282f5"/><text x="671.5" y="56.8">O26:H11</text>
<rect x="654.5" y="67.9" width="10" height="10" fill="#e3b40c"/><text x="671.5" y="78.1">O145:H28</text>
<rect x="654.5" y="89.2" width="10" height="10" fill="#16898a"/><text x="671.5" y="99.4">SFO157</text>
<rect x="654.5" y="110.5" width="10" height="10" fill="#c8640a"/><text x="671.5" y="120.7">O117:H7</text>
<rect x="654.5" y="131.8" width="10" height="10" fill="#17c46c"/><text x="671.5" y="142">O145:H?</text>
<rect x="654.5" y="153.1" width="10" height="10" fill="#f0f"/><text x="671.5" y="163.3">O103:H25</text>
<rect x="654.5" y="174.4" width="10" height="10" fill="#e6e3a3"/><text x="671.5" y="184.6">O111:H8</text>
</g>
</svg>
